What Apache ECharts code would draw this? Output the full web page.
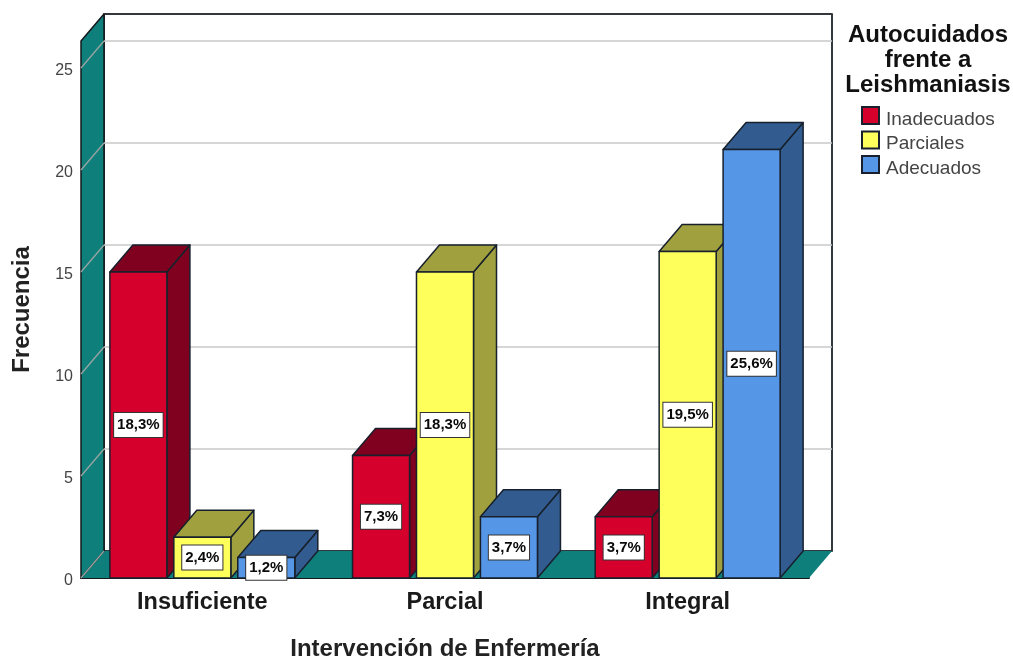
<!DOCTYPE html>
<html>
<head>
<meta charset="utf-8">
<style>html,body{margin:0;padding:0;background:#fff}#chart{width:1013px;height:658px}</style>
<script src="https://cdn.jsdelivr.net/npm/echarts@6/dist/echarts.min.js"></script>
</head>
<body>
<div id="chart"></div>
<script>
const categories = ['Insuficiente', 'Parcial', 'Integral'];
const seriesNames = ['Inadecuados', 'Parciales', 'Adecuados'];
const inadecuados = [15, 6, 3];
const parciales = [2, 15, 16];
const adecuados = [1, 3, 21];
const inadecuadosPct = ['18,3%', '7,3%', '3,7%'];
const parcialesPct = ['2,4%', '18,3%', '19,5%'];
const adecuadosPct = ['1,2%', '3,7%', '25,6%'];
const yTicks = [0, 5, 10, 15, 20, 25];

const FONT = '"Liberation Sans", Arial, sans-serif';
const INK = '#17202c';
const WALL = '#0f7f7b';
// Oblique offset of the rear plane relative to the front plane, in pixels.
const DEPTH_X = 23;
const DEPTH_Y = -27;
const BAR_RATIO = 0.235;
const STEP_RATIO = 0.2635;

const palette = [
  { front: '#d6002c', top: '#80001f', side: '#80001f' },
  { front: '#ffff5c', top: '#a1a03e', side: '#a1a03e' },
  { front: '#5596e6', top: '#325c8f', side: '#325c8f' }
];

function poly(points, fill, stroke, lineWidth) {
  return {
    type: 'polygon',
    shape: { points: points },
    style: { fill: fill, stroke: stroke, lineWidth: lineWidth, lineJoin: 'round' }
  };
}

// Floor, side wall and rear wall of the oblique box.
function renderRoom(params, api) {
  const cs = params.coordSys;
  const l = cs.x, r = cs.x + cs.width, t = cs.y, b = cs.y + cs.height;
  return {
    type: 'group',
    children: [
      poly([[l + DEPTH_X, t + DEPTH_Y], [r + DEPTH_X, t + DEPTH_Y], [r + DEPTH_X, b + DEPTH_Y], [l + DEPTH_X, b + DEPTH_Y]], '#ffffff', '#33383d', 2),
      poly([[l, b], [l + DEPTH_X, b + DEPTH_Y], [r + DEPTH_X, b + DEPTH_Y], [r, b]], WALL, 'none', 0),
      poly([[l, t], [l + DEPTH_X, t + DEPTH_Y], [l + DEPTH_X, b + DEPTH_Y], [l, b]], WALL, '#14181c', 1.5)
    ]
  };
}

// Each gridline runs along the side wall, then across the rear wall.
function renderGridline(params, api) {
  const p = api.coord([0, api.value(0)]);
  const cs = params.coordSys;
  const y = Math.round(p[1]);
  const isBase = api.value(0) === 0;
  const stroke = isBase ? '#8f9492' : '#c9c9c9';
  const children = [{
    type: 'line',
    shape: { x1: cs.x, y1: y, x2: cs.x + DEPTH_X, y2: y + DEPTH_Y },
    style: { stroke: '#9aa5a3', lineWidth: 1.3 }
  }];
  if (!isBase) {
    children.push({
      type: 'line',
      shape: { x1: cs.x + DEPTH_X, y1: y + DEPTH_Y, x2: cs.x + cs.width + DEPTH_X, y2: y + DEPTH_Y },
      style: { stroke: stroke, lineWidth: 1.5 }
    });
  }
  return { type: 'group', children: children };
}

function barRenderer(seriesIndex, labels) {
  const colors = palette[seriesIndex];
  return function (params, api) {
    const catIndex = api.value(0);
    const top = api.coord([catIndex, api.value(1)]);
    const base = api.coord([catIndex, 0]);
    const band = api.size([1, 0])[0];
    const w = band * BAR_RATIO;
    const x = top[0] + (seriesIndex - 1) * band * STEP_RATIO - w / 2;
    const yT = top[1], yB = base[1];
    const dx = DEPTH_X, dy = DEPTH_Y;
    return {
      type: 'group',
      children: [
        poly([[x + w, yT], [x + w + dx, yT + dy], [x + w + dx, yB + dy], [x + w, yB]], colors.side, INK, 1.5),
        poly([[x, yT], [x + dx, yT + dy], [x + w + dx, yT + dy], [x + w, yT]], colors.top, INK, 1.5),
        poly([[x, yT], [x + w, yT], [x + w, yB], [x, yB]], colors.front, INK, 1.5),
        {
          type: 'text',
          z2: 10,
          style: {
            x: x + w / 2,
            y: (yT + yB) / 2,
            text: labels[catIndex],
            align: 'center',
            verticalAlign: 'middle',
            font: 'bold 15px ' + FONT,
            fill: '#0a0a0a',
            backgroundColor: '#ffffff',
            borderColor: '#333333',
            borderWidth: 1,
            padding: [5, 3, 4, 3]
          }
        }
      ]
    };
  };
}

function barSeries(index, values, labels) {
  return {
    name: seriesNames[index],
    type: 'custom',
    renderItem: barRenderer(index, labels),
    clip: false,
    silent: true,
    z: 5 + index,
    itemStyle: { color: palette[index].front, borderColor: INK, borderWidth: 1.5 },
    encode: { x: 0, y: 1 },
    data: values.map(function (v, i) { return [i, v]; })
  };
}

const chart = echarts.init(document.getElementById('chart'), null, { renderer: 'canvas' });
chart.setOption({
  animation: false,
  backgroundColor: '#ffffff',
  grid: { left: 81, top: 41, width: 728, height: 537, outerBoundsMode: 'none' },
  title: {
    text: 'Autocuidados\nfrente a\nLeishmaniasis',
    left: 928,
    top: 23,
    padding: 0,
    textAlign: 'center',
    textStyle: { fontFamily: FONT, fontWeight: 'bold', fontSize: 24, lineHeight: 25, color: '#111111' }
  },
  legend: {
    orient: 'vertical',
    left: 861,
    top: 102,
    padding: 0,
    itemWidth: 17,
    itemHeight: 17,
    itemGap: -2.5,
    icon: 'rect',
    selectedMode: false,
    data: seriesNames,
    formatter: '{t|{name}}',
    textStyle: {
      rich: { t: { fontFamily: FONT, fontSize: 19, lineHeight: 16.5, color: '#444444', padding: [8, 0, 0, 2] } }
    }
  },
  xAxis: {
    type: 'category',
    data: categories,
    name: 'Intervención de Enfermería',
    nameLocation: 'middle',
    nameGap: 59,
    nameTextStyle: { fontFamily: FONT, fontWeight: 'bold', fontSize: 24, color: '#222222' },
    axisTick: { show: false },
    axisLine: { show: true, lineStyle: { color: '#14181c', width: 2 } },
    axisLabel: { fontFamily: FONT, fontWeight: 'bold', fontSize: 23.5, color: '#1a1a1a', margin: 13 }
  },
  yAxis: {
    type: 'value',
    min: 0,
    max: 26.32,
    interval: 5,
    name: 'Frecuencia',
    nameLocation: 'middle',
    nameGap: 47,
    nameRotate: 90,
    nameTextStyle: { fontFamily: FONT, fontWeight: 'bold', fontSize: 24, color: '#222222' },
    axisTick: { show: false },
    axisLine: { show: false },
    splitLine: { show: false },
    axisLabel: {
      margin: 8,
      showMaxLabel: false,
      formatter: '{v|{value}}',
      rich: { v: { fontFamily: FONT, fontSize: 16, color: '#444444', padding: [6, 0, 0, 0] } }
    }
  },
  series: [
    { type: 'custom', name: 'room', silent: true, clip: false, z: 1, renderItem: renderRoom, data: [[0]], encode: { y: 0 } },
    { type: 'custom', name: 'gridlines', silent: true, clip: false, z: 2, renderItem: renderGridline,
      data: yTicks.map(function (t) { return [t]; }), encode: { y: 0 } },
    barSeries(0, inadecuados, inadecuadosPct),
    barSeries(1, parciales, parcialesPct),
    barSeries(2, adecuados, adecuadosPct)
  ]
});
</script>
</body>
</html>
